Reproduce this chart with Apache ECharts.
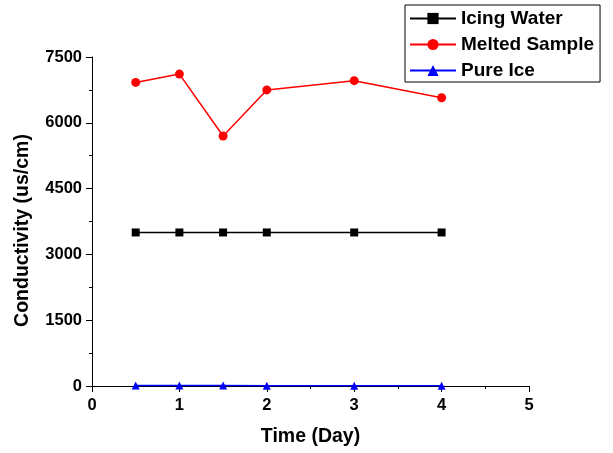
<!DOCTYPE html>
<html>
<head>
<meta charset="utf-8">
<script src="https://cdn.jsdelivr.net/npm/echarts@6/dist/echarts.min.js"></script>
<style>
  html, body { margin: 0; padding: 0; background: #fff; }
  #main { width: 613px; height: 453px; }
</style>
</head>
<body>
<div id="main"></div>
<script>
var days = [0.5, 1, 1.5, 2, 3, 4]
var icingWater = [3500, 3500, 3500, 3500, 3500, 3500]
var meltedSample = [6920, 7110, 5700, 6750, 6960, 6570]
var pureIce = [10, 10, 10, 5, 5, 5]

function pairs(ys) {
  return days.map(function (d, i) { return [d, ys[i]] })
}

var font = 'Liberation Sans, Arial, sans-serif'
var myChart = echarts.init(document.getElementById('main'))

var option = {
  animation: false,
  backgroundColor: '#fff',
  textStyle: { fontFamily: font },
  grid: { left: 92, right: 84, top: 57, bottom: 67 },
  legend: {
    left: 405,
    top: 5,
    orient: 'vertical',
    itemWidth: 46,
    itemHeight: 14,
    itemGap: 7,
    padding: [4, 6, 2, 4],
    borderColor: '#000',
    borderWidth: 1,
    textStyle: { fontFamily: font, fontWeight: 'bold', fontSize: 19, color: '#000' },
    data: ['Icing Water', 'Melted Sample', 'Pure Ice']
  },
  xAxis: {
    type: 'value',
    min: 0,
    max: 5,
    interval: 1,
    name: 'Time (Day)',
    nameLocation: 'middle',
    nameGap: 41,
    nameTextStyle: { fontFamily: font, fontWeight: 'bold', fontSize: 19.5, color: '#000' },
    axisLine: { show: true, onZero: false, lineStyle: { color: '#000', width: 1 } },
    axisTick: { show: true, length: 6, lineStyle: { color: '#000' } },
    minorTick: { show: true, splitNumber: 2, length: 3, lineStyle: { color: '#000' } },
    splitLine: { show: false },
    axisLabel: { fontFamily: font, fontWeight: 'bold', fontSize: 16.5, color: '#000', margin: 11 }
  },
  yAxis: {
    type: 'value',
    min: 0,
    max: 7500,
    interval: 1500,
    name: 'Conductivity (us/cm)',
    nameLocation: 'middle',
    nameGap: 59,
    nameTextStyle: { fontFamily: font, fontWeight: 'bold', fontSize: 19.5, color: '#000', padding: [0, 18, 0, 0] },
    axisLine: { show: true, lineStyle: { color: '#000', width: 1 } },
    axisTick: { show: true, length: 6, lineStyle: { color: '#000' } },
    minorTick: { show: true, splitNumber: 2, length: 3, lineStyle: { color: '#000' } },
    splitLine: { show: false },
    axisLabel: {
      fontFamily: font, fontWeight: 'bold', fontSize: 16.5, color: '#000', margin: 10,
      formatter: function (v) { return String(v) }
    }
  },
  series: [
    {
      name: 'Icing Water',
      type: 'line',
      data: pairs(icingWater),
      symbol: 'rect',
      symbolSize: 8,
      color: '#000',
      lineStyle: { width: 1.5, color: '#000' },
      itemStyle: { color: '#000' }
    },
    {
      name: 'Melted Sample',
      type: 'line',
      data: pairs(meltedSample),
      symbol: 'circle',
      symbolSize: 9,
      color: '#ff0000',
      lineStyle: { width: 1.5, color: '#ff0000' },
      itemStyle: { color: '#ff0000' }
    },
    {
      name: 'Pure Ice',
      type: 'line',
      data: pairs(pureIce),
      symbol: 'triangle',
      symbolSize: 8,
      color: '#0000ff',
      lineStyle: { width: 1.5, color: '#0000ff' },
      itemStyle: { color: '#0000ff' }
    }
  ]
}

myChart.setOption(option)
</script>
</body>
</html>
